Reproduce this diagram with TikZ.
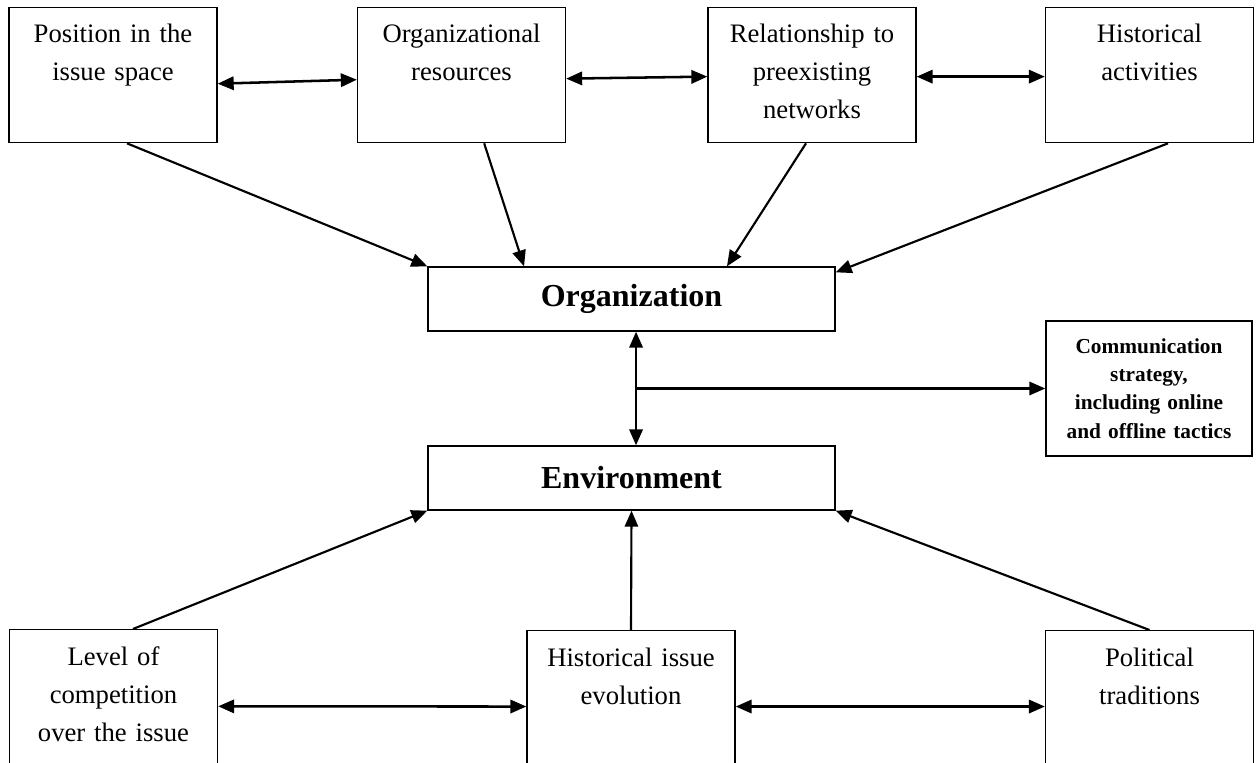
\documentclass[tikz,border=0pt]{standalone}
\usepackage{fontspec}
\setmainfont{Liberation Serif}
\usetikzlibrary{arrows.meta}

\begin{document}
\begin{tikzpicture}[x=0.75pt,y=-0.75pt,
    factor/.style={draw, line width=1pt, anchor=north, text width=150pt, inner xsep=3pt, inner ysep=0pt,
        align=center, text height=26pt, text depth=75.25pt, font=\fontsize{20}{28.5}\selectfont},
    factorlow/.style={factor, text height=27pt, text depth=80pt},
    hub/.style={draw, line width=1pt, minimum width=305.25pt, minimum height=48pt,
        font=\bfseries\fontsize{24}{28}\selectfont},
    outcome/.style={draw, line width=1pt, text width=148.5pt, inner xsep=3pt, minimum height=101.25pt,
        align=center, font=\bfseries\fontsize{16}{21.2}\selectfont},
    link/.style={line width=1.6pt, -{Triangle[length=12pt,width=10pt]}},
    twoway/.style={line width=1.9pt, {Triangle[length=12pt,width=10pt]}-{Triangle[length=12pt,width=10pt]}}]
    % page is 1259 x 763, y runs downwards
    \useasboundingbox (0,0) rectangle (1259,763);

    % organizational factors
    \node[factor] (pos) at (113,7) {Position in the\\issue space};
    \node[factor] (res) at (461.5,7) {Organizational\\resources};
    \node[factor] (net) at (812,7) {Relationship to\\preexisting\\networks};
    \node[factor] (hist) at (1149.5,7) {Historical\\activities};

    % the two hubs
    \node[hub] (org) at (631.5,299) {Organization};
    \node[hub] (env) at (631.5,478) {Environment};
    \node[outcome] (comm) at (1149,388.5) {Communication\\strategy,\\including online\\and offline tactics};

    % environmental factors
    \node[factorlow] (lvl) at (113.5,629) {Level of\\competition\\over the issue};
    \node[factorlow] (evo) at (631,630) {Historical issue\\evolution};
    \node[factorlow] (pol) at (1149.5,630) {Political\\traditions};

    \draw[twoway] ([yshift=-6.4pt]pos.east) -- ([yshift=-3.4pt]res.west);
    \draw[twoway] ([yshift=-2.6pt]res.east) -- ([yshift=-1.1pt]net.west);
    \draw[twoway] ([yshift=-1.1pt]net.east) -- ([yshift=-1.1pt]hist.west);

    \draw[link] ([xshift=10.5pt]pos.south) -- (org.north west);
    \draw[link] ([xshift=17pt]res.south) -- ([xshift=-80.6pt]org.north);
    \draw[link] ([xshift=-4.5pt]net.south) -- ([xshift=71.6pt]org.north);
    \draw[link] ([xshift=13.9pt]hist.south) -- ([yshift=-4.5pt]org.north east);

    \draw[twoway] ([xshift=3.4pt]org.south) -- ([xshift=3.4pt]env.north);
    \draw[link] ([xshift=3.4pt]org.south |- comm.west) -- (comm.west);

    \draw[link] ([xshift=14.6pt]lvl.north) -- (env.south west);
    \draw[link] (evo.north) -- (env.south);
    \draw[link] (pol.north) -- (env.south east);

    \draw[twoway] ([yshift=-4pt]lvl.east) -- ([yshift=-3.4pt]evo.west);
    \draw[twoway] ([yshift=-3.4pt]evo.east) -- ([yshift=-3.4pt]pol.west);
\end{tikzpicture}
\end{document}
